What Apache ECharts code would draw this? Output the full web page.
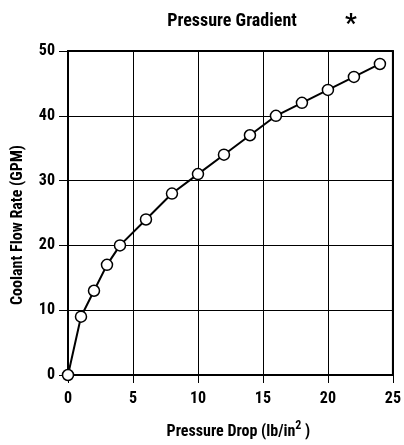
<!DOCTYPE html>
<html>
<head>
<meta charset="utf-8">
<script src="https://cdn.jsdelivr.net/npm/echarts@6/dist/echarts.min.js"></script>
<style>
html,body{margin:0;padding:0;background:#fff;}
#chart{width:404px;height:445px;}
</style>
</head>
<body>
<div id="chart"></div>
<script>
var pressureDrop = [0, 1, 2, 3, 4, 6, 8, 10, 12, 14, 16, 18, 20, 22, 24];
var flowRate     = [0, 9, 13, 17, 20, 24, 28, 31, 34, 37, 40, 42, 44, 46, 48];
var titleText = 'Pressure Gradient';
var xName = 'Pressure Drop';
var yName = 'Coolant Flow Rate (GPM)';

var FONT = '"Roboto Condensed", "Liberation Sans Narrow", sans-serif';
var points = pressureDrop.map(function (x, i) { return [x, flowRate[i]]; });

var chart = echarts.init(document.getElementById('chart'), null, {renderer: 'canvas'});
chart.setOption({
  animation: false,
  backgroundColor: '#fff',
  title: [{
    text: titleText,
    left: 227, top: 7, textAlign: 'center',
    textStyle: {fontFamily: FONT, fontWeight: 'bold', fontSize: 18, color: '#000'}
  }, {
    text: '*',
    left: 346, top: 7, textAlign: 'center',
    textStyle: {fontFamily: FONT, fontWeight: 'bold', fontSize: 26, color: '#000'}
  }],
  grid: {left: 68, right: 9, top: 51, bottom: 66, show: true, borderColor: '#000', borderWidth: 2, backgroundColor: 'transparent'},
  xAxis: {
    type: 'value', min: 0, max: 25, interval: 5,
    name: '{n|' + xName + ' (lb/in}{s|2}{n| )}',
    nameLocation: 'middle', nameGap: 45,
    nameTextStyle: {
      padding: [0, 0, 0, 16],
      rich: {
        n: {fontFamily: FONT, fontWeight: 'bold', fontSize: 16, color: '#000', verticalAlign: 'bottom', lineHeight: 18},
        s: {fontFamily: FONT, fontWeight: 'bold', fontSize: 12, color: '#000', verticalAlign: 'top', padding: [0, 0, 8, 0]}
      }
    },
    axisLine: {show: true, lineStyle: {color: '#000', width: 2}},
    axisTick: {show: true, inside: false, length: 8, lineStyle: {color: '#000', width: 1}},
    axisLabel: {fontFamily: FONT, fontWeight: 'bold', fontSize: 16, color: '#000', margin: 16},
    splitLine: {show: true, lineStyle: {color: '#000', width: 1}}
  },
  yAxis: {
    type: 'value', min: 0, max: 50, interval: 10,
    name: yName, nameLocation: 'middle', nameGap: 42, nameRotate: 90,
    nameTextStyle: {fontFamily: FONT, fontWeight: 'bold', fontSize: 16, color: '#000', padding: [0, 24, 0, 0]},
    axisLine: {show: true, lineStyle: {color: '#000', width: 2}},
    axisTick: {show: true, inside: false, length: 9, lineStyle: {color: '#000', width: 1}},
    axisLabel: {fontFamily: FONT, fontWeight: 'bold', fontSize: 16, color: '#000', margin: 13},
    splitLine: {show: true, lineStyle: {color: '#000', width: 1}}
  },
  series: [{
    type: 'line',
    data: points,
    symbol: 'circle', symbolSize: 11,
    lineStyle: {color: '#000', width: 2},
    itemStyle: {color: '#fff', borderColor: '#000', borderWidth: 1.5},
    z: 5
  }]
});
</script>
</body>
</html>
